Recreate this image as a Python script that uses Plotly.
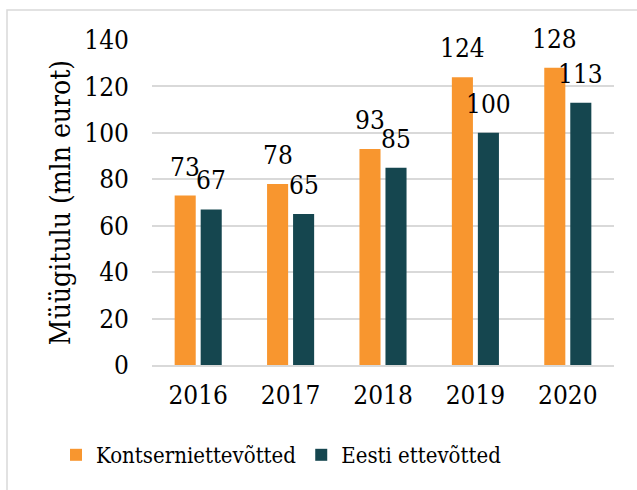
import plotly.graph_objects as go

years = ["2016", "2017", "2018", "2019", "2020"]
kontsern = [73, 78, 93, 124, 128]
eesti = [67, 65, 85, 100, 113]
series_names = ["Kontserniettevõtted", "Eesti ettevõtted"]
y_title = "Müügitulu (mln eurot)"

ORANGE = "#F8962F"
TEAL = "#15464F"
FONT = "DejaVu Serif Condensed"

W, H = 637, 490
ml, mr, mt, mb = 152, 23, 40, 125
pw, ph = W - ml - mr, H - mt - mb

fig = go.Figure()
fig.add_trace(go.Bar(x=years, y=kontsern, name=series_names[0], marker_color=ORANGE,
                     marker_line_width=0))
fig.add_trace(go.Bar(x=years, y=eesti, name=series_names[1], marker_color=TEAL,
                     marker_line_width=0))

annotations = []
for vals, xs in ((kontsern, -13), (eesti, 13)):
    for i, v in enumerate(vals):
        annotations.append(dict(x=i, y=v, xref="x", yref="y", text=str(v),
                                showarrow=False, xshift=xs, yshift=12, yanchor="bottom",
                                font=dict(size=26, color="black", family=FONT)))

fig.update_layout(
    width=W, height=H,
    margin=dict(l=ml, r=mr, t=mt, b=mb, autoexpand=False),
    paper_bgcolor="white", plot_bgcolor="white",
    font=dict(family=FONT, size=26, color="black"),
    barmode="group", bargap=0.437, bargroupgap=0.19,
    showlegend=True,
    legend=dict(orientation="h", x=(56 - ml) / pw, xanchor="left",
                y=(mt + ph - 455) / ph, yanchor="middle",
                font=dict(size=22, family=FONT), itemwidth=30, traceorder="normal",
                bgcolor="rgba(0,0,0,0)"),
    annotations=annotations,
    shapes=[dict(type="rect", xref="paper", yref="paper",
                 x0=(7 - ml) / pw, x1=(W + 20 - ml) / pw,
                 y0=(mt + ph - (H + 20)) / ph, y1=(mt + ph - 10) / ph,
                 line=dict(color="#D9D9D9", width=1.5), fillcolor="rgba(0,0,0,0)", layer="below")],
)

fig.update_yaxes(range=[0, 140], dtick=20, showgrid=True, gridcolor="#D9D9D9", gridwidth=1.5,
                 zeroline=False, showline=False, ticks="", ticklabelstandoff=22,
                 title=dict(text=y_title, standoff=5, font=dict(size=28, family=FONT)),
                 tickfont=dict(size=26, family=FONT))
fig.update_xaxes(type="category", range=[-0.5, len(years) - 0.5], showline=True,
                 linecolor="#D9D9D9", linewidth=1.5, ticks="",
                 tickfont=dict(size=26, family=FONT), ticklabelstandoff=6)

fig.write_html("out.html", config={"displayModeBar": False},
               post_script="document.body.style.margin='0';")
